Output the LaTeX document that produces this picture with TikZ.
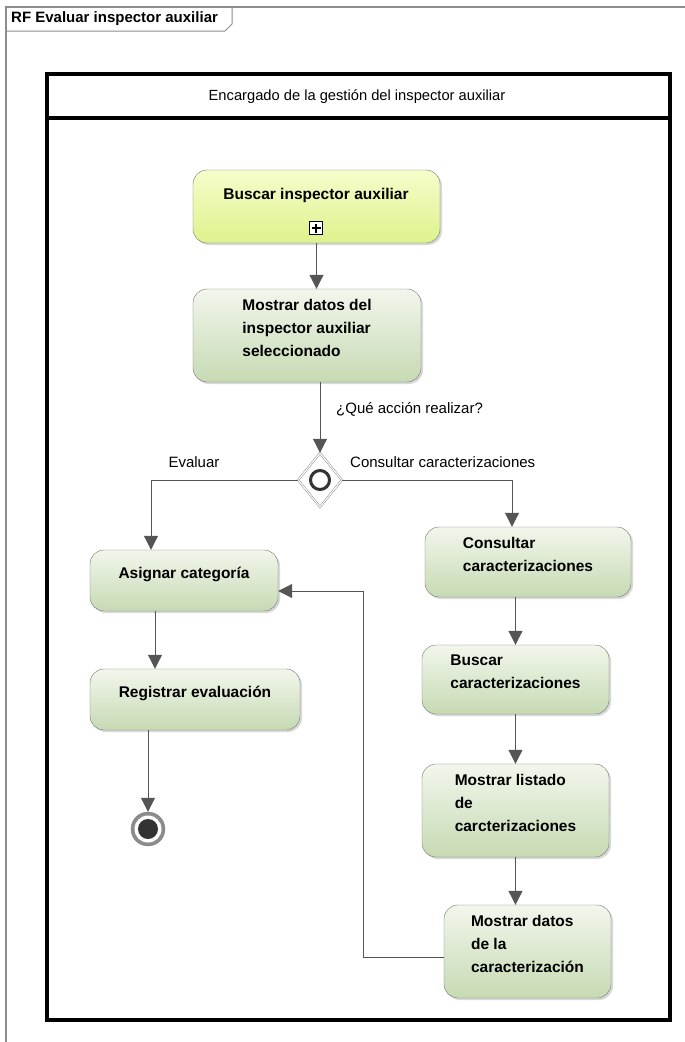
\documentclass[tikz,border=0pt]{standalone}
\usepackage{fontspec}
\setmainfont{Liberation Sans}
\usetikzlibrary{arrows.meta,shapes.geometric,shadows}

\definecolor{linegray}{HTML}{555555}
\definecolor{framegray}{HTML}{8C8C8C}
\definecolor{acttop}{HTML}{F2F6EC}
\definecolor{actbot}{HTML}{C6DAB3}
\definecolor{subtop}{HTML}{F6FDCB}
\definecolor{subbot}{HTML}{DDF28C}

\begin{document}
\begin{tikzpicture}[x=1pt,y=-1pt,
    action/.style={draw=black!55, rounded corners=14pt, top color=acttop, bottom color=actbot,
      drop shadow={shadow xshift=2pt,shadow yshift=-2pt,fill=black!30},
      font=\fontsize{15.5}{23}\selectfont\bfseries, align=left, inner sep=0pt, text depth=16pt},
    flow/.style={draw=linegray, line width=1pt, -{Triangle[width=14pt,length=14pt]}},
    lbl/.style={font=\fontsize{15}{18}\selectfont, inner sep=0pt}]
    \useasboundingbox (0,0) rectangle (685,1042);
    % frame of the diagram
    \draw[framegray, line width=1.2pt] (685,7) -- (6,7) -- (6,1042);
    \draw[framegray, line width=1pt] (6,31) -- (225,31) -- (232,24) -- (232,7);
    \node[anchor=west, font=\fontsize{15}{18}\selectfont\bfseries, inner sep=0pt] (title) at (11,19) {RF Evaluar inspector auxiliar};
    % swimlane
    \draw[line width=4.5pt] (47,74) rectangle (670,1020);
    \draw[line width=4.5pt] (47,118) -- (670,118);
    \node[font=\fontsize{14.7}{18}\selectfont, inner sep=0pt] (lane) at (357,97) {Encargado de la gestión del inspector auxiliar};
    % actions
    \node[action, top color=subtop, bottom color=subbot, minimum width=247pt, minimum height=73pt] (buscar) at (316.5,206.5) {};
    \node[font=\fontsize{15.5}{18}\selectfont\bfseries, inner sep=0pt] (buscartxt) at (316,195) {Buscar inspector auxiliar};
    \node[draw, line width=1pt, minimum size=13pt, inner sep=0pt, fill=white] (subicon) at (316,228) {};
    \draw[line width=2pt] ([xshift=-4.5pt]subicon.center) -- ([xshift=4.5pt]subicon.center);
    \draw[line width=2pt] ([yshift=-4.5pt]subicon.center) -- ([yshift=4.5pt]subicon.center);
    \node[action, minimum width=228pt, minimum height=93pt] (mostrar) at (307,335.5) {Mostrar datos del\\inspector auxiliar\\seleccionado};
    \node[diamond, draw=black!55, double=white, double distance=1.2pt, fill=white, minimum width=44pt, minimum height=54pt, inner sep=0pt] (dec) at (320,480) {};
    \node[circle, draw=black!80, line width=3pt, minimum size=19pt, inner sep=0pt] (decring) at (dec) {};
    \node[action, minimum width=188pt, minimum height=61pt] (asignar) at (184,580.5) {Asignar categoría};
    \node[action, minimum width=210pt, minimum height=61pt] (registrar) at (195,699.5) {Registrar evaluación};
    \node[circle, draw=black!50, fill=black!45, minimum size=34pt, inner sep=0pt] (fin) at (148,829) {};
    \node[circle, fill=white, minimum size=27pt, inner sep=0pt] (finring) at (fin) {};
    \node[circle, fill=black!80, minimum size=20pt, inner sep=0pt] (findot) at (fin) {};
    \node[action, minimum width=206pt, minimum height=70pt] (consultar) at (528,562) {Consultar\\caracterizaciones};
    \node[action, minimum width=187pt, minimum height=69pt] (buscarc) at (515.5,679.5) {Buscar\\caracterizaciones};
    \node[action, minimum width=187pt, minimum height=93pt] (listado) at (515.5,810.5) {Mostrar listado\\de\\carcterizaciones};
    \node[action, minimum width=167pt, minimum height=93pt] (datos) at (527.5,951.5) {Mostrar datos\\de la\\caracterización};
    % flows
    \draw[flow] (buscar.south) -- (buscar.south |- mostrar.north);
    \draw[flow] (dec.north |- mostrar.south) -- (dec.north);
    \draw[flow] (dec.west) -| ([xshift=-33pt]asignar.north);
    \draw[flow] (dec.east) -| ([xshift=-16pt]consultar.north);
    \draw[flow] (buscarc.north |- consultar.south) -- (buscarc.north);
    \draw[flow] (listado.north |- buscarc.south) -- (listado.north);
    \draw[flow] (listado.south) -- (listado.south |- datos.north);
    \draw[flow] ([xshift=-29pt]asignar.south) -- ([xshift=-29pt]asignar.south |- registrar.north);
    \draw[flow] (fin.north |- registrar.south) -- (fin.north);
    \coordinate (bend) at (363,591);
    \draw[flow] ([yshift=-6pt]datos.west) -| (bend) -- (bend -| asignar.east);
    % guard labels
    \node[lbl, anchor=west] (qlbl) at (336,409) {¿Qué acción realizar?};
    \node[lbl] (evlbl) at (194,462) {Evaluar};
    \node[lbl, anchor=west] (cclbl) at (350,462) {Consultar caracterizaciones};
\end{tikzpicture}
\end{document}
